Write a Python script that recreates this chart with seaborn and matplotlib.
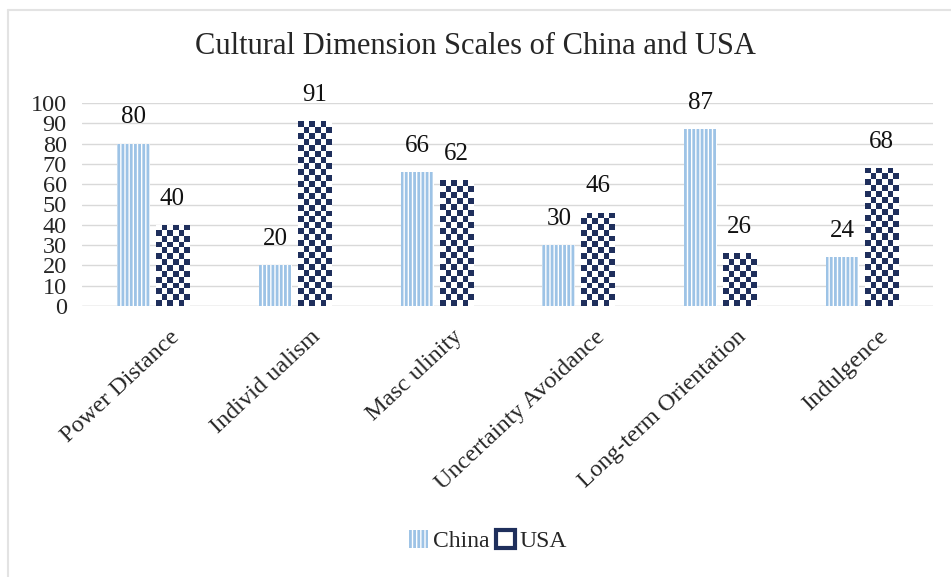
import matplotlib
matplotlib.use("Agg")
import matplotlib.pyplot as plt
import matplotlib.transforms as mtransforms
import seaborn as sns
import pandas as pd
import numpy as np
from matplotlib.lines import Line2D
from matplotlib.patches import Patch
from matplotlib.colors import ListedColormap

categories = ["Power Distance", "Individ ualism", "Masc ulinity",
              "Uncertainty Avoidance", "Long-term Orientation", "Indulgence"]
china = [80, 20, 66, 30, 87, 24]
usa = [40, 91, 62, 46, 26, 68]
series = ["China", "USA"]
yticks = [0, 10, 20, 30, 40, 50, 60, 70, 80, 90, 100]

df = pd.DataFrame({
    "cat": categories * 2,
    "val": china + usa,
    "country": ["China"] * len(categories) + ["USA"] * len(categories),
})

sns.set_theme(style="white")
plt.rcParams["font.family"] = ["Liberation Serif", "DejaVu Serif"]
plt.rcParams["hatch.linewidth"] = 2.0

light = "#9dc3e6"
navy = "#1f2f5c"

fig = plt.figure(figsize=(9.51, 5.77), dpi=100)
ax_l, ax_r, ax_t, ax_b = 82, 933, 103, 306
ax = fig.add_axes([ax_l / 951, 1 - ax_b / 577, (ax_r - ax_l) / 951, (ax_b - ax_t) / 577])

sns.barplot(data=df, x="cat", y="val", hue="country", order=categories,
            hue_order=series, width=0.55, gap=0.15, ax=ax, legend=False,
            palette=["#ffffff", navy])

xmin, xmax = -0.5, 5.5
px_per_x = (ax_r - ax_l) / (xmax - xmin)
px_per_y = (ax_b - ax_t) / 100.0
cell = 6.0
checker_cmap = ListedColormap(["white", navy])

for cont, name in zip(ax.containers, series):
    for bar in cont:
        bar.set_linewidth(0)
        if name == "China":
            bar.set_facecolor("white")
            bar.set_edgecolor(light)
            bar.set_hatch("||||")
        else:
            bar.set_facecolor("white")
            x0, y0 = bar.get_x(), bar.get_y()
            w, h = bar.get_width(), bar.get_height()
            nx = max(1, int(round(w * px_per_x / cell)))
            ny = max(1, int(round(h * px_per_y / cell)))
            jj, ii = np.meshgrid(np.arange(nx), np.arange(ny))
            arr = ((ii + jj) % 2 == 0).astype(float)
            im = ax.imshow(arr, extent=(x0, x0 + w, y0, y0 + h), origin="lower",
                           cmap=checker_cmap, vmin=0, vmax=1, aspect="auto",
                           interpolation="nearest", zorder=bar.get_zorder() + 0.1)
            im.set_clip_path(bar)
    ax.bar_label(cont, labels=[str(int(v)) for v in cont.datavalues],
                 padding=11, fontsize=18, color="#111111")

ax.set_xlim(xmin, xmax)
ax.set_ylim(0, 100)
ax.set_yticks(yticks)
ax.set_yticklabels([str(t) for t in yticks], fontsize=17.5)
ax.tick_params(axis="y", length=0, pad=11)
ax.tick_params(axis="x", length=0, pad=6)
ax.set_xticks(range(len(categories)))
ax.set_xticklabels(categories, rotation=43, ha="right", rotation_mode="anchor",
                   fontsize=17.5)
offset = mtransforms.ScaledTranslation(16 / 100, -12 / 100, fig.dpi_scale_trans)
for lab in ax.get_xticklabels():
    lab.set_transform(lab.get_transform() + offset)
ax.set_xlabel("")
ax.set_ylabel("")
ax.yaxis.grid(True, color="#d9d9d9", linewidth=1)
ax.set_axisbelow(True)
for s in ax.spines.values():
    s.set_visible(False)
ax.axhline(0, color="#d9d9d9", linewidth=1, zorder=0)
for t in ax.texts:
    t.set_clip_on(False)

fig.text(475 / 951, 1 - 46 / 577, "Cultural Dimension Scales of China and USA",
         ha="center", va="center", fontsize=22)

h1 = Patch(facecolor="white", edgecolor=light, hatch="||||", linewidth=0)
h2 = Patch(facecolor="white", edgecolor=navy, linewidth=3)
fig.legend([h1, h2], series, loc="center", bbox_to_anchor=(488 / 951, 1 - 541 / 577),
           ncol=2, frameon=False, fontsize=17, handlelength=0.8, handleheight=0.8,
           handletextpad=0.2, columnspacing=0.3)

fig.add_artist(Line2D([8 / 951, 8 / 951], [0, 1 - 10 / 577], color="#e3e3e3", lw=1.5,
                      transform=fig.transFigure))
fig.add_artist(Line2D([8 / 951, 1], [1 - 10 / 577, 1 - 10 / 577], color="#e3e3e3", lw=1.5,
                      transform=fig.transFigure))

fig.savefig("out.png", dpi=100)
